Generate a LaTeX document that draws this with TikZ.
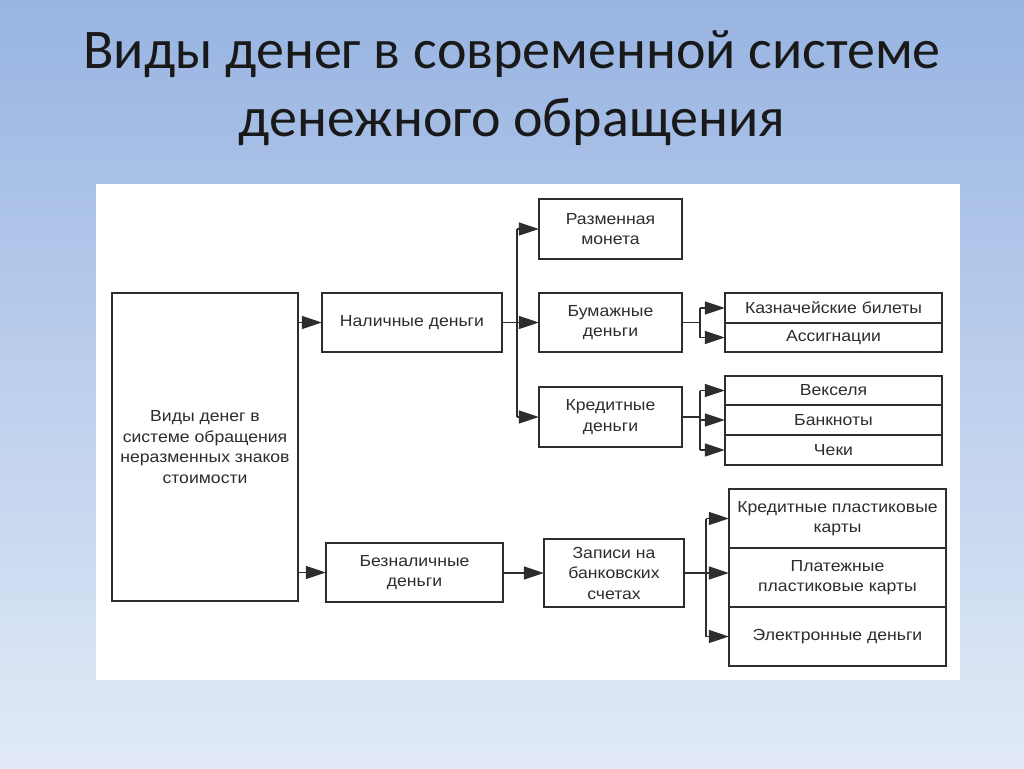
\documentclass[tikz,border=0pt]{standalone}
\usepackage{fontspec}
\setmainfont{Liberation Sans}[FakeStretch=1.1]
\newfontfamily\titlefont{Carlito}
\usetikzlibrary{arrows.meta}
\definecolor{bgtop}{RGB}{152,180,226}
\definecolor{bgbot}{RGB}{226,234,247}
\definecolor{ink}{RGB}{45,45,45}
\tikzset{
  box/.style={draw=ink, line width=1.4pt, fill=white, align=center, inner sep=2pt,
              text=ink, font=\fontsize{16}{20.5}\selectfont},
  conn/.style={draw=ink, line width=1.4pt},
  arr/.style={conn, -{Triangle[length=20pt,width=13pt]}, shorten >=-0.5pt}
}
\begin{document}
\begin{tikzpicture}[x=1pt,y=-1pt]
\useasboundingbox (0,0) rectangle (1024,768);
\shade[top color=bgtop, bottom color=bgbot] (0,0) rectangle (1024,768);
\fill[white] (96,184) rectangle (960,680);
\node[font=\titlefont\fontsize{56}{68}\selectfont, text=black!90, align=center] (title) at (512,88)
  {Виды денег в современной системе\\денежного обращения};

% nodes
\node[box, minimum width=186, minimum height=308] (main) at (205,447)
  {Виды денег в\\системе обращения\\неразменных знаков\\стоимости};
\node[box, minimum width=180, minimum height=59] (nal) at (412,322.5) {Наличные деньги};
\node[box, minimum width=143, minimum height=60] (razm) at (610.5,229) {Разменная\\монета};
\node[box, minimum width=143, minimum height=59] (bum) at (610.5,322.5) {Бумажные\\деньги};
\node[box, minimum width=143, minimum height=60] (kred) at (610.5,417) {Кредитные\\деньги};
\node[box, minimum width=217, minimum height=30] (kazn) at (833.5,308) {Казначейские билеты};
\node[box, minimum width=217, minimum height=29] (assig) at (833.5,337.5) {Ассигнации};
\node[box, minimum width=217, minimum height=29] (veks) at (833.5,390.5) {Векселя};
\node[box, minimum width=217, minimum height=30] (bank) at (833.5,420) {Банкноты};
\node[box, minimum width=217, minimum height=30] (cheki) at (833.5,450) {Чеки};
\node[box, minimum width=177, minimum height=59] (bezn) at (414.5,572.5) {Безналичные\\деньги};
\node[box, minimum width=140, minimum height=68] (zap) at (614,573) {Записи на\\банковских\\счетах};
\node[box, minimum width=217, minimum height=59] (kpk) at (837.5,518.5) {Кредитные пластиковые\\карты};
\node[box, minimum width=217, minimum height=59] (ppk) at (837.5,577.5) {Платежные\\пластиковые карты};
\node[box, minimum width=217, minimum height=59] (el) at (837.5,636.5) {Электронные деньги};

% bus coordinates
\coordinate (b1) at (517,322.5);
\coordinate (b2) at (700,322.5);
\coordinate (b3) at (700,417);
\coordinate (b4) at (706,573);

% main -> first level
\draw[arr] (main.east |- nal.west) -- (nal.west);
\draw[arr] (main.east |- bezn.west) -- (bezn.west);

% Наличные
\draw[conn] (nal.east) -- (b1);
\draw[conn] (b1 |- razm.west) -- (b1 |- kred.west);
\draw[arr] (b1 |- razm.west) -- (razm.west);
\draw[arr] (b1) -- (bum.west);
\draw[arr] (b1 |- kred.west) -- (kred.west);

% Бумажные
\draw[conn] (bum.east) -- (b2);
\draw[conn] (b2 |- kazn.west) -- (b2 |- assig.west);
\draw[arr] (b2 |- kazn.west) -- (kazn.west);
\draw[arr] (b2 |- assig.west) -- (assig.west);

% Кредитные
\draw[conn] (kred.east) -- (b3);
\draw[conn] (b3 |- veks.west) -- (b3 |- cheki.west);
\draw[arr] (b3 |- veks.west) -- (veks.west);
\draw[arr] (b3 |- bank.west) -- (bank.west);
\draw[arr] (b3 |- cheki.west) -- (cheki.west);

% Безналичные
\draw[arr] (bezn.east |- zap.west) -- (zap.west);
\draw[conn] (zap.east) -- (b4);
\draw[conn] (b4 |- kpk.west) -- (b4 |- el.west);
\draw[arr] (b4 |- kpk.west) -- (kpk.west);
\draw[arr] (b4) -- (b4 -| ppk.west);
\draw[arr] (b4 |- el.west) -- (el.west);
\end{tikzpicture}
\end{document}
